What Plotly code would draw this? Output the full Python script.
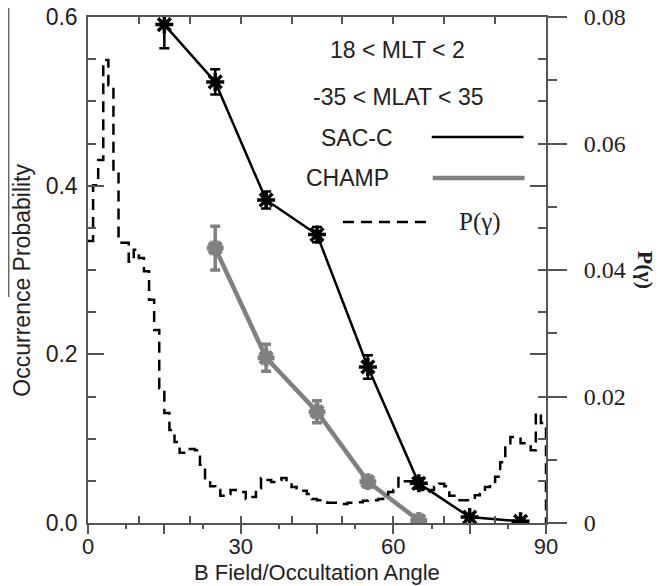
import plotly.graph_objects as go

# occurrence probability vs B field / occultation angle
sacc_angle = [15, 25, 35, 45, 55, 65, 75, 85]
sacc_prob = [0.591, 0.523, 0.383, 0.342, 0.185, 0.047, 0.007, 0.002]
sacc_err = [0.028, 0.015, 0.010, 0.009, 0.014, 0.006, 0.003, 0.002]

champ_angle = [25, 35, 45, 55, 65]
champ_prob = [0.326, 0.196, 0.132, 0.049, 0.003]
champ_err = [0.026, 0.016, 0.013, 0.006, 0.003]

# P(gamma), one value per 1 degree bin from 0 to 90
p_gamma = [
    0.0446, 0.0534, 0.0574, 0.0732, 0.0692, 0.0555, 0.0443, 0.0443, 0.0413, 0.0432,
    0.0419, 0.0398, 0.0353, 0.0305, 0.0213, 0.0174, 0.0147, 0.0128, 0.0111, 0.0111,
    0.0117, 0.0115, 0.0092, 0.0068, 0.0058, 0.0052, 0.0043, 0.0046, 0.0052, 0.0052,
    0.0049, 0.0038, 0.0041, 0.0055, 0.0071, 0.0068, 0.0065, 0.0068, 0.0071, 0.0068,
    0.0057, 0.0055, 0.0051, 0.0046, 0.0038, 0.0036, 0.0033, 0.0032, 0.0032, 0.0030,
    0.0030, 0.0032, 0.0033, 0.0033, 0.0035, 0.0036, 0.0036, 0.0038, 0.0043, 0.0049,
    0.0052, 0.0071, 0.0066, 0.0066, 0.0055, 0.0052, 0.0049, 0.0052, 0.0057, 0.0062,
    0.0058, 0.0043, 0.0040, 0.0036, 0.0036, 0.0040, 0.0044, 0.0046, 0.0057, 0.0062,
    0.0073, 0.0096, 0.0123, 0.0136, 0.0136, 0.0126, 0.0126, 0.0115, 0.0174, 0.0158,
]
bin_edges = list(range(0, 91))

x_ticks = [0, 15, 30, 45, 60, 75, 90]
x_ticktext = ["0", "", "30", "", "60", "", "90"]
p_ticks = [0, 0.02, 0.04, 0.06, 0.08]
p_ticktext = ["0", "0.02", "0.04", "0.06", "0.08"]

GRAY = "#808080"
AXIS = "#555555"
SANS = "Liberation Sans"
SERIF = "Liberation Serif"

fig = go.Figure()

fig.add_trace(
    go.Scatter(
        x=bin_edges,
        y=p_gamma + [0],
        xaxis="x2",
        yaxis="y2",
        mode="lines",
        line=dict(shape="hv", color="black", width=2.5, dash="11px,7px"),
        showlegend=False,
    )
)
fig.add_trace(
    go.Scatter(
        x=champ_angle,
        y=champ_prob,
        mode="lines+markers",
        line=dict(color=GRAY, width=4.5),
        marker=dict(symbol="asterisk-open", size=14, line=dict(color=GRAY, width=5)),
        error_y=dict(type="data", array=champ_err, color=GRAY, thickness=3.5, width=5),
        showlegend=False,
    )
)
fig.add_trace(
    go.Scatter(
        x=sacc_angle,
        y=sacc_prob,
        mode="lines+markers",
        line=dict(color="black", width=2.5),
        marker=dict(symbol="asterisk-open", size=15, line=dict(color="black", width=3.5)),
        error_y=dict(type="data", array=sacc_err, color="black", thickness=2.5, width=5),
        showlegend=False,
    )
)

tick_font = dict(family=SANS, size=23, color="#222")

# the page has an 8px body margin, so the figure sits at (8, 8)
fig.update_layout(
    width=654,
    height=578,
    margin=dict(l=79.5, r=115.5, t=9, b=63),
    paper_bgcolor="white",
    plot_bgcolor="white",
    xaxis=dict(
        range=[0, 90],
        automargin=False,
        showline=True,
        linecolor=AXIS,
        linewidth=1.5,
        mirror="ticks",
        ticks="inside",
        dtick=10,
        ticklen=7,
        tickwidth=1.5,
        tickcolor=AXIS,
        showticklabels=False,
        showgrid=False,
        zeroline=False,
    ),
    xaxis2=dict(
        overlaying="x",
        side="bottom",
        range=[0, 90],
        automargin=False,
        showline=False,
        ticks="outside",
        tickvals=x_ticks,
        ticktext=x_ticktext,
        ticklen=10,
        tickwidth=1.5,
        tickcolor=AXIS,
        minor=dict(dtick=7.5, tick0=0, ticks="outside", ticklen=5, tickwidth=1.5, tickcolor=AXIS),
        tickfont=dict(family=SANS, size=22, color="#222"),
        ticklabelstandoff=-6,
        ticklabeloverflow="allow",
        showgrid=False,
        zeroline=False,
    ),
    yaxis=dict(
        range=[0, 0.6],
        automargin=False,
        showline=True,
        linecolor=AXIS,
        linewidth=1.5,
        mirror="ticks",
        ticks="inside",
        dtick=0.2,
        tickformat=".1f",
        ticklen=16,
        tickwidth=1.5,
        tickcolor=AXIS,
        minor=dict(dtick=0.05, ticks="inside", ticklen=8, tickwidth=1.5, tickcolor=AXIS),
        tickfont=tick_font,
        ticklabelstandoff=4,
        ticklabeloverflow="allow",
        showgrid=False,
        zeroline=False,
    ),
    yaxis2=dict(
        overlaying="y",
        side="right",
        range=[0, 0.08],
        automargin=False,
        showline=False,
        ticks="outside",
        tickvals=p_ticks,
        ticktext=p_ticktext,
        ticklen=20,
        tickwidth=1.5,
        tickcolor=AXIS,
        minor=dict(dtick=0.01, ticks="outside", ticklen=10, tickwidth=1.5, tickcolor=AXIS),
        tickfont=dict(family=SERIF, size=24, color="#222"),
        ticklabelstandoff=12,
        ticklabeloverflow="allow",
        showgrid=False,
        zeroline=False,
    ),
)


# page pixel -> paper coordinate (plot area spans x 87.5..546.5, y 17..523 on the page)
def px_x(px):
    return (px - 87.5) / 459


def px_y(py):
    return (523 - py) / 506


legend_texts = [
    ("18 < MLT < 2", 398, 50, SANS, 23),
    ("-35 < MLAT < 35", 398, 97, SANS, 23),
    ("SAC-C", 357, 138, SANS, 23),
    ("CHAMP", 348, 178, SANS, 23),
    ("P(\u03b3)", 480, 222, SERIF, 25),
]
for text, px, py, family, size in legend_texts:
    fig.add_annotation(
        x=px_x(px), y=px_y(py), xref="paper", yref="paper", text=text, showarrow=False,
        font=dict(family=family, size=size, color="#222"), xanchor="center", yanchor="middle",
    )

fig.add_shape(type="line", xref="paper", yref="paper", x0=px_x(432), x1=px_x(524),
              y0=px_y(137), y1=px_y(137), line=dict(color="black", width=2.5))
fig.add_shape(type="line", xref="paper", yref="paper", x0=px_x(433), x1=px_x(525),
              y0=px_y(178), y1=px_y(178), line=dict(color=GRAY, width=4.5))
fig.add_shape(type="line", xref="paper", yref="paper", x0=px_x(343), x1=px_x(433),
              y0=px_y(222), y1=px_y(222), line=dict(color="black", width=2.5, dash="11px,7px"))

# axis titles
fig.add_annotation(
    x=px_x(317), y=px_y(572), xref="paper", yref="paper", text="B Field/Occultation Angle",
    showarrow=False, font=dict(family=SANS, size=22, color="#222"),
    xanchor="center", yanchor="middle",
)
fig.add_annotation(
    x=px_x(21), y=px_y(280), xref="paper", yref="paper", text="Occurrence Probability",
    showarrow=False, textangle=-90, font=dict(family=SANS, size=23, color="#222"),
    xanchor="center", yanchor="middle",
)
fig.add_shape(type="line", xref="paper", yref="paper", x0=px_x(8), x1=px_x(8),
              y0=px_y(8), y1=px_y(297), line=dict(color="#666", width=1.5))
fig.add_annotation(
    x=px_x(647), y=px_y(270), xref="paper", yref="paper", text="<b>P(\u03b3)</b>",
    showarrow=False, textangle=90, font=dict(family=SERIF, size=22, color="#222"),
    xanchor="center", yanchor="middle",
)

fig.write_html("out.html")
